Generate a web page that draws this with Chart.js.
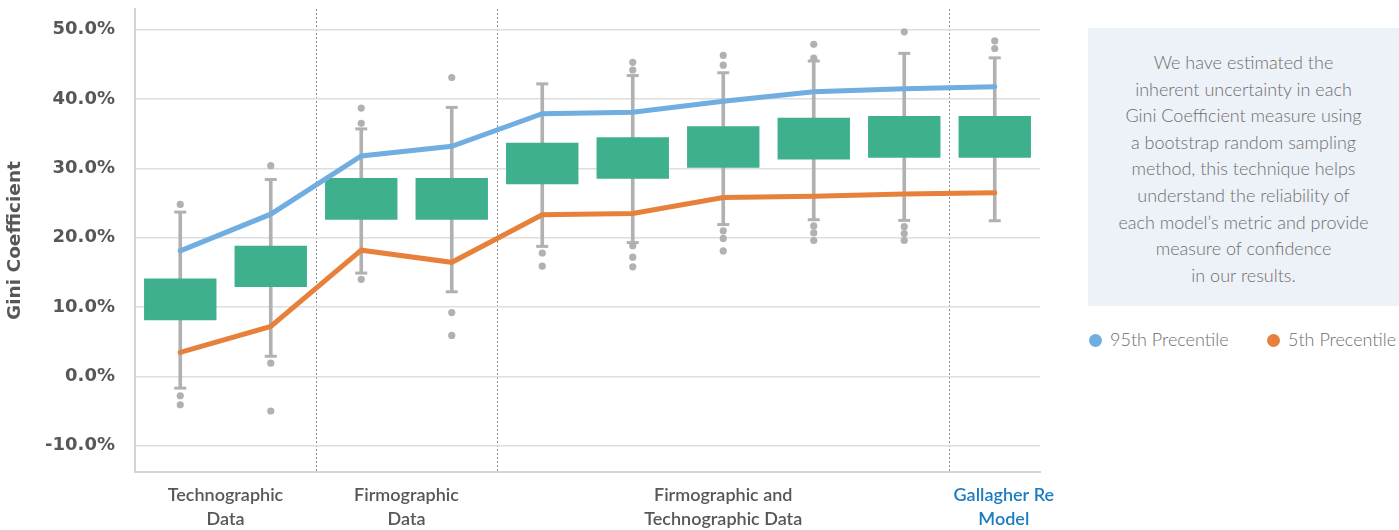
<!DOCTYPE html>
<html>
<head>
<meta charset="utf-8">
<script src="https://cdn.jsdelivr.net/npm/chart.js@4.4.1/dist/chart.umd.min.js"></script>
<style>
    html, body { margin: 0; padding: 0; background: #fff; }
    body { width: 1399px; height: 530px; position: relative; overflow: hidden; font-family: Lato, "Open Sans", sans-serif; }
    #chartWrap { position: absolute; left: 0; top: 0; width: 1060px; height: 530px; }
    #note {
        position: absolute; left: 1088px; top: 28px; width: 311px; height: 278px;
        background: #edf1f8; box-sizing: border-box; padding-top: 21px;
        text-align: center; color: #6e6e6e; font-size: 18px; line-height: 26.6px; font-weight: 300;
    }
    #legend { position: absolute; left: 1089px; top: 327px; width: 310px; color: #6e6e6e; font-size: 18px; font-weight: 300; }
    .item { position: absolute; top: 0; white-space: nowrap; line-height: 24px; }
    .dot { display: inline-block; width: 13px; height: 13px; border-radius: 50%; vertical-align: -1px; margin-right: 8px; }
</style>
</head>
<body>
<div id="chartWrap"><canvas id="giniChart"></canvas></div>
<div id="note">We have estimated the<br>inherent uncertainty in each<br>Gini Coefficient measure using<br>a bootstrap random sampling<br>method, this technique helps<br>understand the reliability of<br>each model’s metric and provide<br>measure of confidence<br>in our results.</div>
<div id="legend"></div>

<script>
// categories (one box per model)
const categories = ['Techno 1', 'Techno 2', 'Firmo 1', 'Firmo 2', 'Combined 1', 'Combined 2', 'Combined 3', 'Combined 4', 'Combined 5', 'Gallagher Re'];

// box plot values (%)
const q1 = [8.1, 12.9, 22.6, 22.6, 27.7, 28.5, 30.1, 31.3, 31.55, 31.55];
const q3 = [14.1, 18.85, 28.6, 28.6, 33.7, 34.5, 36.1, 37.3, 37.55, 37.55];
const whiskerLow = [-1.7, 2.9, 14.9, 12.2, 18.75, 19.3, 21.9, 22.6, 22.5, 22.45];
const whiskerHigh = [23.7, 28.4, 35.7, 38.8, 42.2, 43.4, 43.8, 45.5, 46.6, 45.95];
const outliers = [
    [24.8, -2.8, -4.1],
    [30.4, 1.9, -5.0],
    [36.5, 38.7, 14.0],
    [43.1, 9.2, 5.9],
    [17.8, 15.9],
    [44.2, 45.3, 18.85, 17.2, 15.8],
    [44.9, 46.3, 21.0, 19.9, 18.1],
    [45.9, 47.9, 21.7, 20.7, 19.6],
    [49.7, 21.6, 20.6, 19.6],
    [47.3, 48.4]
];

// percentile lines (%)
const p95 = [18.1, 23.4, 31.8, 33.2, 37.9, 38.1, 39.7, 41.05, 41.5, 41.8];
const p5 = [3.45, 7.2, 18.2, 16.45, 23.3, 23.5, 25.8, 26.0, 26.3, 26.5];

// axis ticks and group labels
const yTicks = [-10, 0, 10, 20, 30, 40, 50];
const groupLabels = [['Technographic', 'Data'], ['Firmographic', 'Data'], ['Firmographic and', 'Technographic Data'], ['Gallagher Re', 'Model']];
const groupPos = [1, 3, 6.5, 9.6];
const separatorIdx = [2, 4, 9];

const gray = '#b0b1b0';
const green = '#3eb08d';
const blue = '#70ade0';
const orange = '#e7803a';
const textGray = '#575757';

const capPoints = [];
const outlierPoints = [];
categories.forEach((c, i) => {
    capPoints.push({ x: c, y: whiskerLow[i] }, { x: c, y: whiskerHigh[i] });
    outliers[i].forEach(v => outlierPoints.push({ x: c, y: v }));
});

new Chart(document.getElementById('giniChart'), {
    type: 'bar',
    data: {
        labels: categories,
        datasets: [
            {
                label: '95th Precentile',
                type: 'line',
                data: p95,
                borderColor: blue,
                backgroundColor: blue,
                borderWidth: 5,
                borderCapStyle: 'round',
                pointRadius: 0,
                tension: 0,
                order: 0
            },
            {
                label: '5th Precentile',
                type: 'line',
                data: p5,
                borderColor: orange,
                backgroundColor: orange,
                borderWidth: 5,
                borderCapStyle: 'round',
                pointRadius: 0,
                tension: 0,
                order: 0
            },
            {
                label: 'Box',
                data: categories.map((c, i) => [q1[i], q3[i]]),
                backgroundColor: green,
                barPercentage: 0.8,
                categoryPercentage: 1.0,
                grouped: false,
                order: 1
            },
            {
                label: 'Caps',
                type: 'line',
                data: capPoints,
                showLine: false,
                pointStyle: 'line',
                pointRadius: 6,
                pointBorderWidth: 3,
                pointBorderColor: gray,
                order: 2
            },
            {
                label: 'Outliers',
                type: 'line',
                data: outlierPoints,
                showLine: false,
                pointRadius: 3.6,
                pointBorderWidth: 0,
                pointBackgroundColor: gray,
                order: 2
            },
            {
                label: 'Whisker',
                data: categories.map((c, i) => [whiskerLow[i], whiskerHigh[i]]),
                backgroundColor: gray,
                barThickness: 3,
                grouped: false,
                order: 3
            }
        ]
    },
    options: {
        responsive: true,
        maintainAspectRatio: false,
        animation: false,
        layout: { padding: { top: 8, right: 20, left: 0, bottom: 0 } },
        plugins: {
            legend: { display: false },
            tooltip: { enabled: false }
        },
        scales: {
            x: {
                type: 'category',
                position: 'bottom',
                ticks: { display: false },
                grid: {
                    drawTicks: false,
                    offset: true,
                    lineWidth: 1,
                    color: ctx => separatorIdx.includes(ctx.index) ? '#8c8c8c' : 'rgba(0,0,0,0)'
                },
                border: { color: '#d4d4d4', width: 2, dash: [2, 2] },
                afterFit: s => { s.height = 0; s.paddingLeft = 0; s.paddingRight = 0; }
            },
            x2: {
                type: 'linear',
                position: 'bottom',
                offset: false,
                min: 0,
                max: 10,
                grid: { display: false, drawTicks: false, offset: false },
                border: { display: false },
                afterBuildTicks: s => { s.ticks = groupPos.map(v => ({ value: v })); },
                afterFit: s => { s.height = 58; s.paddingLeft = 0; s.paddingRight = 0; },
                ticks: {
                    autoSkip: false,
                    maxRotation: 0,
                    padding: 11,
                    font: { family: 'Lato', size: 18, weight: '600', lineHeight: 1.33 },
                    color: ctx => ctx.index === 3 ? '#1b7dc0' : textGray,
                    callback: (v, i) => groupLabels[i]
                }
            },
            y: {
                min: -13.8,
                max: 53,
                afterBuildTicks: s => { s.ticks = yTicks.map(v => ({ value: v })); },
                afterFit: s => { s.width = 135; s.paddingTop = 0; s.paddingBottom = 0; },
                grid: { color: '#dedede', lineWidth: 1.5, drawTicks: false },
                border: { color: '#d4d4d4', width: 2 },
                ticks: {
                    padding: 20,
                    color: textGray,
                    font: { family: 'DejaVu Sans', size: 18, weight: 'bold' },
                    callback: v => v.toFixed(1) + '%'
                },
                title: {
                    display: true,
                    text: 'Gini Coefficient',
                    color: textGray,
                    font: { family: 'DejaVu Sans', size: 18.5, weight: 'bold' },
                    padding: { top: 4, bottom: 0 }
                }
            }
        }
    }
});

// html legend for the two percentile lines
const legendItems = [
    { text: '95th Precentile', color: blue, left: 0 },
    { text: '5th Precentile', color: orange, left: 178 }
];
const legendEl = document.getElementById('legend');
legendItems.forEach(it => {
    const span = document.createElement('span');
    span.className = 'item';
    span.style.left = it.left + 'px';
    span.innerHTML = '<span class="dot" style="background:' + it.color + '"></span>' + it.text;
    legendEl.appendChild(span);
});
</script>
</body>
</html>
